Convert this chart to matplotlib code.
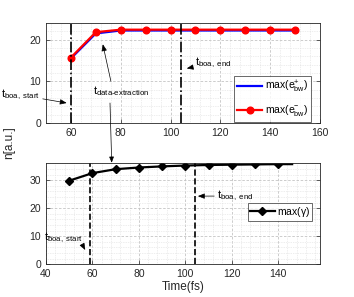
import matplotlib
matplotlib.use("Agg")
import matplotlib.pyplot as plt
from matplotlib.ticker import MultipleLocator, AutoMinorLocator

plt.rcParams['font.family'] = ['Liberation Sans', 'DejaVu Sans']
plt.rcParams['mathtext.fontset'] = 'custom'
plt.rcParams['mathtext.rm'] = 'Liberation Sans'
plt.rcParams['mathtext.it'] = 'Liberation Sans'
plt.rcParams['font.size'] = 7

# ---- data ----
t_top = [60, 70, 80, 90, 100, 110, 120, 130, 140, 150]
e_plus = [15.5, 21.5, 22.2, 22.2, 22.2, 22.2, 22.2, 22.2, 22.2, 22.2]
e_minus = [15.7, 21.8, 22.4, 22.4, 22.4, 22.4, 22.4, 22.4, 22.4, 22.4]

t_bot = [50, 60, 70, 80, 90, 100, 110, 120, 130, 140, 146]
gamma = [29.8, 32.5, 33.9, 34.5, 34.9, 35.2, 35.4, 35.5, 35.6, 35.7, 35.7]

t_boa_start_top = 60
t_boa_end_top = 104
t_boa_start_bot = 59
t_boa_end_bot = 104

W, H = 354, 297
fig = plt.figure(figsize=(W / 100, H / 100), dpi=100)

def fx(px):
    return px / W

def fy(py):
    return 1 - py / H

ax1 = fig.add_axes([fx(46), fy(123), fx(320) - fx(46), fy(23) - fy(123)])
ax2 = fig.add_axes([fx(46), fy(264.3), fx(320) - fx(46), fy(163.3) - fy(264.3)])

spine_col = '#262626'
for ax in (ax1, ax2):
    for s in ax.spines.values():
        s.set_color(spine_col)
        s.set_linewidth(0.6)
    ax.tick_params(direction='in', length=3, width=0.5, colors=spine_col,
                   labelsize=7.5, labelcolor='#262626', top=False, right=True)
    ax.tick_params(which='minor', length=0, top=False, right=False)
    ax.xaxis.set_minor_locator(AutoMinorLocator(5))
    ax.yaxis.set_minor_locator(AutoMinorLocator(5))
    ax.grid(True, which='major', color='#c4c4c4', linestyle=(0, (3, 2)), linewidth=0.6)
    ax.grid(True, which='minor', color='#dcdcdc', linestyle=(0, (1, 1.5)), linewidth=0.5)
    ax.set_axisbelow(True)

# ---- top panel ----
ax1.plot(t_top, e_plus, color='blue', lw=1.6, label=r'max(e$\mathregular{^{+}_{bw}}$)')
ax1.plot(t_top, e_minus, color='red', lw=1.6, marker='o', ms=4.8,
         label=r'max(e$\mathregular{^{-}_{bw}}$)')
ax1.axvline(t_boa_start_top, color='black', ls='-.', lw=1.2)
ax1.axvline(t_boa_end_top, color='black', ls='-.', lw=1.2)
ax1.set_xlim(50, 160)
ax1.set_ylim(0, 24)
ax1.xaxis.set_major_locator(MultipleLocator(20))
ax1.yaxis.set_major_locator(MultipleLocator(10))
ax1.set_xticks([60, 80, 100, 120, 140, 160])

leg1 = ax1.legend(loc='upper right', bbox_to_anchor=(fx(311), fy(75.7)),
                  bbox_transform=fig.transFigure, fontsize=7.5, frameon=True,
                  fancybox=False, edgecolor='#262626', borderpad=0.3,
                  labelspacing=0.8, handlelength=2.4, handletextpad=0.2,
                  borderaxespad=0)
leg1.get_frame().set_linewidth(0.6)

ap = dict(arrowstyle='-|>,head_length=0.5,head_width=0.2', color='black', lw=0.5,
          shrinkA=0, shrinkB=0)

ax1.annotate(r'$\mathregular{t_{boa,\ start}}$', xy=(58.3, 4.8),
             xytext=(fx(1), fy(95)), textcoords='figure fraction',
             fontsize=8, ha='left', va='center', arrowprops=ap)
ax1.annotate(r'$\mathregular{t_{boa,\ end}}$', xy=(106.5, 13.1),
             xytext=(fx(195), fy(63)), textcoords='figure fraction',
             fontsize=8, ha='left', va='center', arrowprops=ap)
ax1.annotate(r'$\mathregular{t_{data\text{-}extraction}}$', xy=(72.8, 18.9),
             xytext=(fx(93), fy(91)), textcoords='figure fraction',
             fontsize=8, ha='left', va='center', arrowprops=dict(ap, relpos=(0.33, 1.0)))
ax2.annotate('', xy=(68.3, 36.2), xytext=(fx(110), fy(103)),
             textcoords='figure fraction', annotation_clip=False,
             arrowprops=ap)

# ---- bottom panel ----
ax2.plot(t_bot, gamma, color='black', lw=1.6, marker='D', ms=4,
         markevery=list(range(len(t_bot) - 1)), label=r'max($\gamma$)')
ax2.axvline(t_boa_start_bot, color='black', ls='--', lw=1.2)
ax2.axvline(t_boa_end_bot, color='black', ls='--', lw=1.2)
ax2.set_xlim(40, 158)
ax2.set_ylim(0, 36)
ax2.xaxis.set_major_locator(MultipleLocator(20))
ax2.yaxis.set_major_locator(MultipleLocator(10))
ax2.set_xticks([40, 60, 80, 100, 120, 140])
ax2.set_xlabel('Time(fs)', fontsize=8.5, labelpad=1.5, color='#262626')

leg2 = ax2.legend(loc='upper right', bbox_to_anchor=(fx(312), fy(203)),
                  bbox_transform=fig.transFigure, fontsize=7.5, frameon=True,
                  fancybox=False, edgecolor='#262626', borderpad=0.2,
                  handlelength=2.4, handletextpad=0.2, borderaxespad=0)
leg2.get_frame().set_linewidth(0.6)

ax2.annotate(r'$\mathregular{t_{boa,\ start}}$', xy=(56.9, 5.1),
             xytext=(fx(44), fy(238)), textcoords='figure fraction',
             fontsize=8, ha='left', va='center', arrowprops=dict(ap, relpos=(0.95, 0.2)))
ax2.annotate(r'$\mathregular{t_{boa,\ end}}$', xy=(105.4, 24.3),
             xytext=(fx(217), fy(196)), textcoords='figure fraction',
             fontsize=8, ha='left', va='center', arrowprops=ap)

fig.text(fx(9), fy(143), 'n[a.u.]', rotation=90, ha='center', va='center',
         fontsize=8.5, color='#262626')

fig.savefig('out.png', dpi=100)
